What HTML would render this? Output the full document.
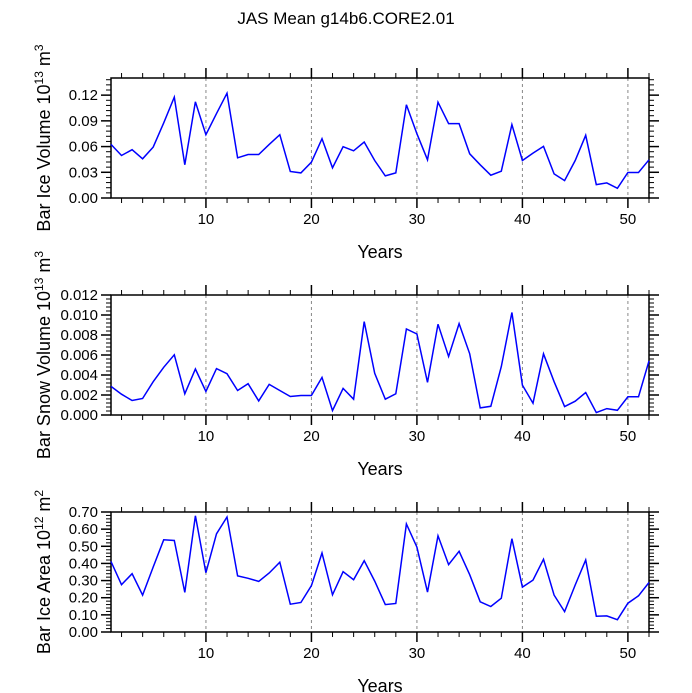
<!DOCTYPE html>
<html><head><meta charset="utf-8"><style>
html,body{margin:0;padding:0;background:#fff;}
svg{display:block;font-family:"Liberation Sans",Helvetica,Arial,sans-serif;}
</style></head><body>
<svg id="chart" width="692" height="693" viewBox="0 0 692 693" xmlns="http://www.w3.org/2000/svg">
<text x="346" y="24" text-anchor="middle" font-size="17">JAS Mean g14b6.CORE2.01</text>
</svg>
<script>
const years = Array.from({length:52},(_,i)=>i+1);
const iceVolume = [.0625,.0496,.0563,.0457,.0594,.0876,.1177,.0387,.1122,.0739,.0985,.1223,.0469,.0508,.0508,.0625,.0739,.0309,.0293,.0418,.0692,.0352,.0598,.0551,.0653,.0438,.0258,.0293,.1087,.075,.0446,.1118,.0868,.0868,.0516,.0387,.0266,.0313,.0856,.0438,.0524,.0602,.0281,.0203,.0438,.0731,.0156,.0176,.0113,.0297,.0297,.0446];
const snowVolume = [.00286,.00208,.00145,.00165,.00333,.00477,.00602,.00212,.0046,.00235,.00464,.00413,.00245,.00313,.00141,.00306,.00245,.00185,.00195,.00195,.00376,.00044,.00266,.00158,.00934,.00417,.00158,.00212,.0086,.0081,.00326,.00908,.00585,.00914,.00612,.00071,.00087,.00484,.01025,.00299,.00118,.00612,.00333,.00084,.00138,.00225,.00024,.00064,.00047,.00182,.00182,.00541];
const iceArea = [.411,.276,.340,.215,.379,.538,.534,.231,.678,.346,.573,.671,.327,.313,.295,.344,.407,.162,.172,.270,.461,.217,.352,.305,.416,.297,.160,.166,.630,.495,.233,.561,.393,.471,.334,.176,.149,.197,.544,.262,.303,.424,.215,.119,.274,.420,.092,.094,.072,.168,.211,.289];
const xTicks = [10,20,30,40,50];
const iceVolTicks = ["0.00","0.03","0.06","0.09","0.12"];
const snowTicks = ["0.000","0.002","0.004","0.006","0.008","0.010","0.012"];
const areaTicks = ["0.00","0.10","0.20","0.30","0.40","0.50","0.60","0.70"];

const NS="http://www.w3.org/2000/svg";
const svg=document.getElementById('chart');
function mk(tag,attrs,parent){const e=document.createElementNS(NS,tag);for(const k in attrs)e.setAttribute(k,attrs[k]);(parent||svg).appendChild(e);return e;}
const X0=111,X1=649;
function xs(v){return X0+(v-1)*(X1-X0)/51;}

function panel(opt){
  const g=mk('g',{});
  
  
  const ys=v=>opt.bot-(v-opt.ymin)*(opt.bot-opt.top)/(opt.ymax-opt.ymin);
  xTicks.forEach(t=>{const l=mk('line',{x1:xs(t),x2:xs(t),y1:opt.top,y2:opt.bot,stroke:'#888','stroke-width':1,'stroke-dasharray':'3,3'},g);
    
    });
  for(let yr=2;yr<=52;yr+=2){const maj=yr%10===0;const len=maj?10:5;
    mk('line',{x1:xs(yr),x2:xs(yr),y1:opt.bot,y2:opt.bot+len,stroke:'#000','stroke-width':maj?1.5:1},g);
    mk('line',{x1:xs(yr),x2:xs(yr),y1:opt.top,y2:opt.top-len,stroke:'#000','stroke-width':maj?1.5:1},g);}
  xTicks.forEach(t=>{const tx=mk('text',{x:xs(t),y:opt.bot+26,'text-anchor':'middle','font-size':15},g);tx.textContent=t;
    
    });
  const n=Math.round((opt.ymax-opt.ymin)/opt.minor);
  for(let i=0;i<=n;i++){const v=opt.ymin+i*opt.minor;const y=ys(v);
    const maj=Math.abs(v/opt.major-Math.round(v/opt.major))<1e-6 && v<=opt.majMax+1e-9;const len=maj?10:5;
    mk('line',{x1:X0,x2:X0-len,y1:y,y2:y,stroke:'#000','stroke-width':maj?1.5:1},g);
    mk('line',{x1:X1,x2:X1+len,y1:y,y2:y,stroke:'#000','stroke-width':maj?1.5:1},g);}
  opt.labels.forEach((lab,i)=>{const tx=mk('text',{x:X0-13,y:ys(i*opt.major)+5,'text-anchor':'end','font-size':15},g);tx.textContent=lab;
    
    });
  const fr=mk('rect',{x:X0,y:opt.top,width:X1-X0,height:opt.bot-opt.top,fill:'none',stroke:'#000','stroke-width':1.5},g);
  
  
  const pts=opt.data.map((v,i)=>xs(years[i]).toFixed(1)+','+ys(v).toFixed(1)).join(' ');
  const pl=mk('polyline',{points:pts,fill:'none',stroke:'#0000ff','stroke-width':1.5},g);
  
  
  const xt=mk('text',{x:380,y:opt.bot+60,'text-anchor':'middle','font-size':18},g);xt.textContent='Years';
  
  
  const cy=(opt.top+opt.bot)/2;
  const yt=mk('text',{x:0,y:0,'text-anchor':'middle','font-size':18,transform:`translate(50,${cy}) rotate(-90)`},g);
  
  
  const parts=[[opt.ytitle+' 10',0,18],[opt.exp1,-7,12],[' m',7,18],[opt.exp2,-7,12]];
  parts.forEach(p=>{const ts=mk('tspan',{dy:p[1],'font-size':p[2]},yt);ts.textContent=p[0];});
}
panel({name:'ice-volume-panel',top:78,bot:198,ymin:0,ymax:0.14,major:0.03,majMax:0.12,minor:0.006,labels:iceVolTicks,data:iceVolume,ytitle:'Bar Ice Volume',exp1:'13',exp2:'3'});
panel({name:'snow-volume-panel',top:295,bot:415,ymin:0,ymax:0.012,major:0.002,majMax:0.012,minor:0.0004,labels:snowTicks,data:snowVolume,ytitle:'Bar Snow Volume',exp1:'13',exp2:'3'});
panel({name:'ice-area-panel',top:512,bot:632,ymin:0,ymax:0.70,major:0.1,majMax:0.7,minor:0.02,labels:areaTicks,data:iceArea,ytitle:'Bar Ice Area',exp1:'12',exp2:'2'});
</script>
</body></html>
